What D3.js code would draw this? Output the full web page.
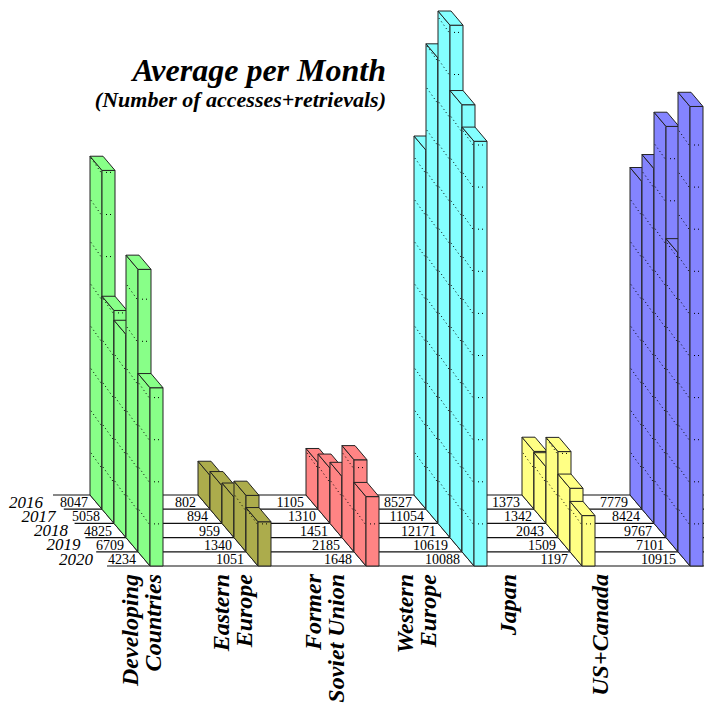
<!DOCTYPE html>
<html>
<head>
<meta charset="utf-8">
<script src="https://cdn.jsdelivr.net/npm/d3@7"></script>
<style>
body { margin: 0; background: #fff; }
svg { display: block; }
</style>
</head>
<body>
<svg class="chart"></svg>
<script>
const categories = ['Developing Countries', 'Eastern Europe', 'Former Soviet Union',
    'Western Europe', 'Japan', 'US+Canada'];
const categoryLines = [['Developing', 'Countries'], ['Eastern', 'Europe'],
    ['Former', 'Soviet Union'], ['Western', 'Europe'], ['Japan'], ['US+Canada']];
const years = ['2016', '2017', '2018', '2019', '2020'];

// one value per year, 2016 .. 2020
const developing = [8047, 5058, 4825, 6709, 4234];
const easternEurope = [802, 894, 959, 1340, 1051];
const formerSoviet = [1105, 1310, 1451, 2185, 1648];
const westernEurope = [8527, 11054, 12171, 10619, 10088];
const japan = [1373, 1342, 2043, 1509, 1197];
const usCanada = [7779, 8424, 9767, 7101, 10915];
const series = [developing, easternEurope, formerSoviet, westernEurope, japan, usCanada];

const width = 704, height = 703, barW = 13, gridStep = 1000;
const serif = '"Liberation Serif", "Times New Roman", serif';

const svg = d3.select('.chart')
    .attr('width', width)
    .attr('height', height);

const color = d3.scaleOrdinal().domain(categories)
    .range(['#88ff88', '#acac4c', '#ff8484', '#84ffff', '#ffff84', '#8484ff']);

// front-left corner of the front (2020) bar of each group
const xFront = d3.scalePoint().domain(categories).range([150, 690]);
// depth: row boundary k (0 = back, 5 = front)
const floorY = d3.scaleLinear().domain([0, years.length]).range([495, 566]);
const depthX = d3.scaleLinear().domain([0, years.length]).range([-60, 0]);
const edgeX = d3.scaleLinear().domain([0, years.length]).range([53, 107]);
const yearX = d3.scaleLinear().domain([0, years.length - 1]).range([43, 93]);
const hScale = d3.scaleLinear().domain([0, 12000]).range([0, 505.2]);
const labelX = d3.scalePoint().domain(categories).range([141, 600]);

// title
svg.append('text')
    .attr('x', 386).attr('y', 81)
    .attr('text-anchor', 'end')
    .style('font', `italic bold 32px ${serif}`)
    .text('Average per Month');
svg.append('text')
    .attr('x', 386).attr('y', 107)
    .attr('text-anchor', 'end')
    .style('font', `italic bold 22px ${serif}`)
    .text('(Number of accesses+retrievals)');

// floor rows
svg.append('g').selectAll('line')
    .data(d3.range(years.length + 1))
    .enter().append('line')
    .attr('x1', k => edgeX(k)).attr('x2', width)
    .attr('y1', k => floorY(k)).attr('y2', k => floorY(k))
    .attr('stroke', '#111').attr('stroke-width', 1.2);

// left edge of each group's footprint
svg.append('g').selectAll('line')
    .data(categories)
    .enter().append('line')
    .attr('x1', c => xFront(c) + depthX(0)).attr('y1', floorY(0))
    .attr('x2', c => xFront(c) + depthX(years.length)).attr('y2', floorY(years.length))
    .attr('stroke', '#111').attr('stroke-width', 1);

// year labels
svg.append('g').selectAll('text')
    .data(years)
    .enter().append('text')
    .attr('x', (y, j) => yearX(j))
    .attr('y', (y, j) => floorY(j + 1) - 1.5)
    .attr('text-anchor', 'end')
    .style('font', `italic 17px ${serif}`)
    .text(y => y);

const cells = years.flatMap((y, j) => categories.map((c, i) => ({c, i, j, v: series[i][j]})));

// value labels
svg.append('g').selectAll('text')
    .data(cells)
    .enter().append('text')
    .attr('x', d => xFront(d.c) + depthX(d.j) - 2)
    .attr('y', d => floorY(d.j + 1) - 2)
    .attr('text-anchor', 'end')
    .style('font', `14px ${serif}`)
    .text(d => d.v);

// bars, back row first
const bars = svg.append('g').selectAll('g')
    .data(cells)
    .enter().append('g')
    .attr('stroke', '#222').attr('stroke-width', 1).attr('stroke-linejoin', 'round');

const geom = d => {
    const fx = xFront(d.c) + depthX(d.j + 1), fy = floorY(d.j + 1);
    const bx = xFront(d.c) + depthX(d.j), by = floorY(d.j);
    return {fx, fy, bx, by, h: hScale(d.v)};
};

bars.append('polygon')
    .attr('fill', d => color(d.c))
    .attr('points', d => {
        const g = geom(d);
        return [[g.fx, g.fy], [g.fx, g.fy - g.h], [g.bx, g.by - g.h], [g.bx, g.by]].join(' ');
    });

bars.append('rect')
    .attr('fill', d => color(d.c))
    .attr('x', d => geom(d).fx)
    .attr('y', d => geom(d).fy - geom(d).h)
    .attr('width', barW)
    .attr('height', d => geom(d).h);

bars.append('polygon')
    .attr('fill', d => color(d.c))
    .attr('points', d => {
        const g = geom(d);
        return [[g.fx, g.fy - g.h], [g.fx + barW, g.fy - g.h],
            [g.bx + barW, g.by - g.h], [g.bx, g.by - g.h]].join(' ');
    });

// dotted value grid on the faces
bars.each(function(d) {
    const g = geom(d);
    const ticks = d3.range(gridStep, d.v, gridStep);
    const sel = d3.select(this);
    sel.selectAll('line.side').data(ticks).enter().append('line')
        .attr('x1', g.bx + 1).attr('y1', t => g.by - hScale(t))
        .attr('x2', g.fx - 1).attr('y2', t => g.fy - hScale(t))
        .attr('stroke', '#000').attr('stroke-dasharray', '1,3');
    sel.selectAll('line.front').data(ticks).enter().append('line')
        .attr('x1', g.fx + 4).attr('y1', t => g.fy - hScale(t))
        .attr('x2', g.fx + barW - 2).attr('y2', t => g.fy - hScale(t))
        .attr('stroke', '#000').attr('stroke-dasharray', '1,3');
});

// category labels, rotated
const labels = svg.append('g').selectAll('g')
    .data(categories)
    .enter().append('g');

labels.each(function(c, i) {
    const lines = categoryLines[i];
    const capTop = labelX(c) - ((lines.length - 1) * 23 + 16) / 2;
    d3.select(this).selectAll('text')
        .data(lines)
        .enter().append('text')
        .attr('transform', (t, k) => `translate(${capTop + 16 + k * 23}, 574) rotate(-90)`)
        .attr('text-anchor', 'end')
        .style('font', `italic bold 24px ${serif}`)
        .text(t => t);
});
</script>
</body>
</html>
